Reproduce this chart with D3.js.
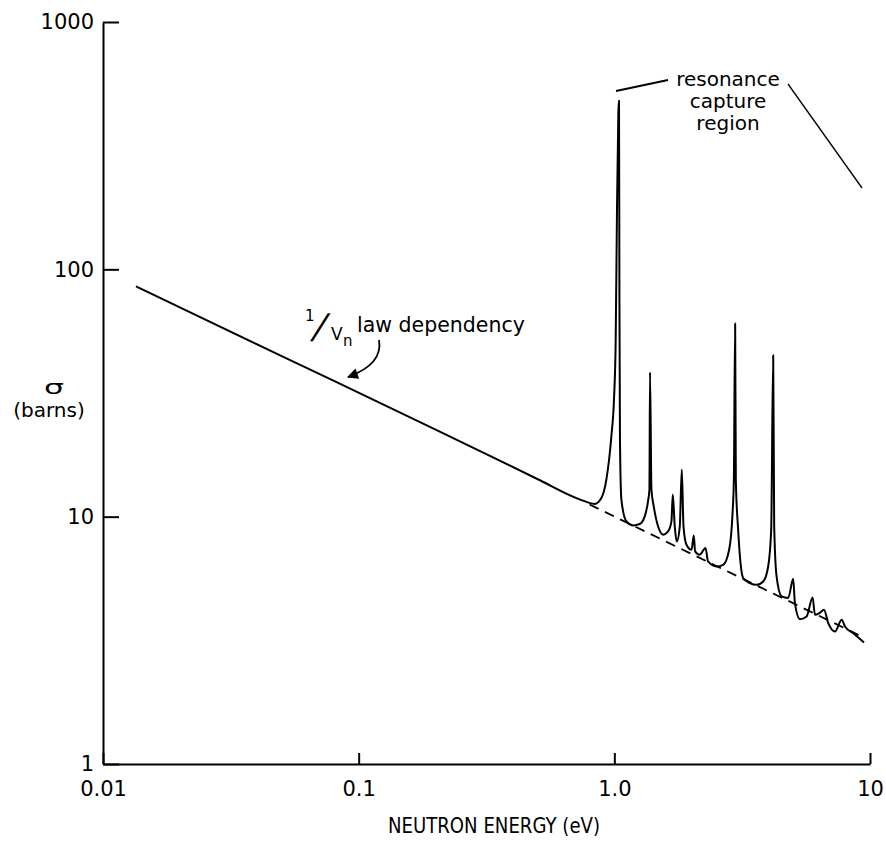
<!DOCTYPE html>
<html>
<head>
<meta charset="utf-8">
<script src="https://cdn.jsdelivr.net/npm/d3@7"></script>
<style>
  body { margin: 0; background: #fff; }
  svg { display: block; font-family: 'DejaVu Sans', sans-serif; }
  .axis path, .axis line { stroke: #000; stroke-width: 2; }
  .axis text { font-size: 21px; fill: #000; font-family: 'DejaVu Sans', sans-serif; }
  .lbl { fill: #000; }
</style>
</head>
<body>
<div id="chart"></div>
<script>
// tick values and their labels
const xTicks = [0.01, 0.1, 1, 10];
const xTickLabels = ['0.01', '0.1', '1.0', '10'];
const yTicks = [1, 10, 100, 1000];
const yTickLabels = ['1', '10', '100', '1000'];

const energy = [
  0.01346, 0.05, 0.2, 0.5, 0.7316, 0.8375, 0.8898, 0.9307, 0.9736, 0.9968,
  1.012, 1.024, 1.037, 1.043, 1.047, 1.052, 1.0656, 1.1146, 1.1828, 1.2567,
  1.3148, 1.3543, 1.3716, 1.3792, 1.3968, 1.4261, 1.4826, 1.551, 1.6226, 1.6726,
  1.6925, 1.7232, 1.7548, 1.8031, 1.8358, 1.8644, 1.9152, 2.0035, 2.0455, 2.0697,
  2.159, 2.2727, 2.3264, 2.5095, 2.6645, 2.8123, 2.9, 2.9343, 2.9685, 2.987,
  3.0496, 3.1903, 3.3891, 3.6003, 3.8213, 3.997, 4.107, 4.1817, 4.2195, 4.3118,
  4.511, 4.7874, 5.0073, 5.0851, 5.3198, 5.6504, 5.9648, 6.0898, 6.3316, 6.6054,
  6.8676, 7.2946, 7.7478, 7.981, 8.6048, 9.4733
];
const sigma = [
  85.3, 44.6, 22.5, 14.2, 11.75, 11.26, 11.9, 14.12, 21.14, 29.76,
  50.6, 170.1, 432, 480, 75.6, 20.5, 11.72, 9.57, 9.22, 9.34,
  10.03, 11.53, 12.86, 38.4, 12.86, 11.01, 9.14, 8.46, 8.72, 9.57,
  12.28, 9.14, 7.94, 9.14, 15.5, 9.14, 7.7, 7.35, 8.4, 7.24,
  7.02, 7.47, 6.59, 6.29, 6.39, 7.35, 10.35, 14.12, 60.4, 14.12,
  8.86, 5.65, 5.39, 5.3, 5.47, 6.29, 8.86, 44.9, 9.14, 5.73,
  4.76, 4.69, 5.61, 4.47, 3.85, 3.95, 4.71, 4.01, 4.07, 4.2,
  3.71, 3.43, 3.83, 3.6, 3.38, 3.1
];

// 1/v extrapolation (dashed)
const dashEnergy = [0.80, 9.5];
const dashSigma = [11.2, 3.24];

const width = 886;
const height = 841;

const svg = d3.select('#chart')
  .append('svg')
  .attr('width', width)
  .attr('height', height);

svg.append('rect').attr('width', width).attr('height', height).attr('fill', '#fff');

const x = d3.scaleLog().domain([0.01, 10]).range([103, 870]);
const y = d3.scaleLog().domain([1, 1000]).range([764, 22]);

svg.append('g')
  .attr('class', 'axis')
  .attr('transform', 'translate(0,764)')
  .call(d3.axisBottom(x)
    .tickValues(xTicks)
    .tickFormat((d, i) => xTickLabels[i])
    .tickSizeInner(-11)
    .tickSizeOuter(0)
    .tickPadding(17));

svg.append('g')
  .attr('class', 'axis')
  .attr('transform', 'translate(103,0)')
  .call(d3.axisLeft(y)
    .tickValues(yTicks)
    .tickFormat((d, i) => yTickLabels[i])
    .tickSizeInner(-16)
    .tickSizeOuter(0)
    .tickPadding(9));

const line = d3.line()
  .x(d => x(d[0]))
  .y(d => y(d[1]))
  .curve(d3.curveMonotoneX);

svg.append('path')
  .datum(d3.zip(dashEnergy, dashSigma))
  .attr('d', d3.line().x(d => x(d[0])).y(d => y(d[1])))
  .attr('fill', 'none')
  .attr('stroke', '#000')
  .attr('stroke-width', 1.8)
  .attr('stroke-dasharray', '10,7');

svg.append('path')
  .datum(d3.zip(energy, sigma))
  .attr('d', line)
  .attr('fill', 'none')
  .attr('stroke', '#000')
  .attr('stroke-width', 2)
  .attr('stroke-linejoin', 'round');

// axis titles
svg.append('text')
  .attr('class', 'lbl')
  .attr('x', 388)
  .attr('y', 833)
  .attr('textLength', 212)
  .attr('lengthAdjust', 'spacingAndGlyphs')
  .style('font-size', '21px')
  .text('NEUTRON ENERGY (eV)');

svg.append('text')
  .attr('class', 'lbl')
  .attr('x', 44)
  .attr('y', 394)
  .attr('textLength', 20)
  .attr('lengthAdjust', 'spacingAndGlyphs')
  .style('font-size', '20px')
  .text('σ');

svg.append('text')
  .attr('class', 'lbl')
  .attr('x', 49)
  .attr('y', 417)
  .attr('text-anchor', 'middle')
  .style('font-size', '20px')
  .text('(barns)');

// resonance annotation
const res = svg.append('g').style('font-size', '20px');
[['resonance', 86], ['capture', 108], ['region', 130]].forEach(([t, yy]) => {
  res.append('text')
    .attr('class', 'lbl')
    .attr('x', 728)
    .attr('y', yy)
    .attr('text-anchor', 'middle')
    .text(t);
});
svg.append('path')
  .attr('d', 'M616,91L668,80')
  .attr('stroke', '#000')
  .attr('stroke-width', 2);
svg.append('path')
  .attr('d', 'M788,84L862,188')
  .attr('stroke', '#000')
  .attr('stroke-width', 1.3);

// 1/vn law annotation
const law = svg.append('g');
law.append('text').attr('class', 'lbl').attr('x', 305).attr('y', 321)
  .style('font-size', '15px').text('1');
law.append('text').attr('class', 'lbl')
  .attr('transform', 'translate(311,338) skewX(-18)')
  .style('font-size', '34px').text('/');
law.append('text').attr('class', 'lbl').attr('x', 331).attr('y', 340)
  .style('font-size', '17px').text('V');
law.append('text').attr('class', 'lbl').attr('x', 343).attr('y', 346)
  .style('font-size', '15px').text('n');
law.append('text').attr('class', 'lbl').attr('x', 357).attr('y', 332)
  .style('font-size', '20.5px').text('law dependency');

svg.append('defs').append('marker')
  .attr('id', 'arrow')
  .attr('viewBox', '0 0 10 10')
  .attr('refX', 9)
  .attr('refY', 5)
  .attr('markerWidth', 12)
  .attr('markerHeight', 11)
  .attr('markerUnits', 'userSpaceOnUse')
  .attr('orient', 'auto')
  .append('path')
  .attr('d', 'M0,0L10,5L0,10Z')
  .attr('fill', '#000');

svg.append('path')
  .attr('d', 'M379,340C382,357 370,369 348,377')
  .attr('fill', 'none')
  .attr('stroke', '#000')
  .attr('stroke-width', 1.8)
  .attr('marker-end', 'url(#arrow)');
</script>
</body>
</html>
